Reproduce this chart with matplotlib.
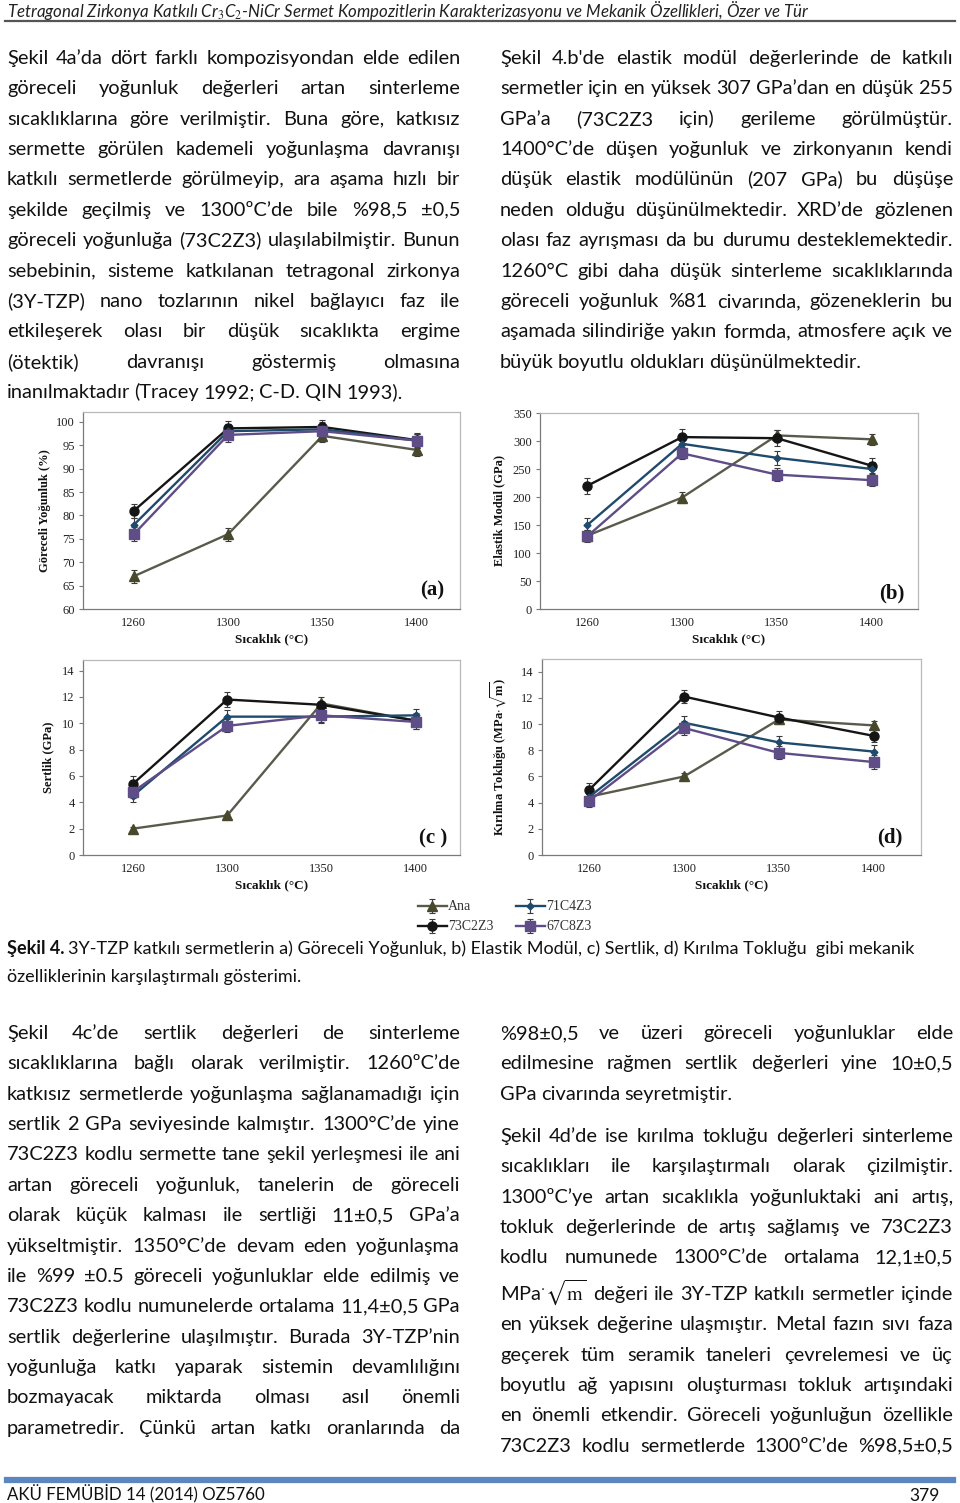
import matplotlib
matplotlib.use("Agg")
import matplotlib.pyplot as plt

plt.rcParams["mathtext.fontset"] = "stix"

# ---- data ----
temps = ["1260", "1300", "1350", "1400"]
series = ["Ana", "73C2Z3", "71C4Z3", "67C8Z3"]

density_ana = [67, 76, 97, 94]
density_73 = [81, 98.6, 98.9, 96.1]
density_71 = [78, 98, 98.4, 96]
density_67 = [76, 97.2, 98, 96]
density_err = [1.4, 1.5, 1.5, 1.5]

modulus_ana = [131, 199, 310, 303]
modulus_73 = [220, 307, 305, 256]
modulus_71 = [150, 295, 270, 250]
modulus_67 = [130, 278, 240, 230]
modulus_err = [10, 14, 12, 11]

hardness_ana = [2.0, 3.0, 11.5, 10.2]
hardness_73 = [5.4, 11.8, 11.4, 10.2]
hardness_71 = [4.5, 10.5, 10.5, 10.6]
hardness_67 = [4.8, 9.8, 10.6, 10.1]
hardness_err = [0.1, 0.6, 0.5, 0.5]

tough_ana = [4.45, 6.0, 10.35, 9.9]
tough_73 = [5.0, 12.1, 10.5, 9.1]
tough_71 = [4.45, 10.1, 8.6, 7.9]
tough_67 = [4.15, 9.7, 7.8, 7.1]
tough_err = [0.3, 0.5, 0.5, 0.5]

W, H = 960, 1503
fig = plt.figure(figsize=(W / 100, H / 100), dpi=100)
renderer = fig.canvas.get_renderer()
BODY = "Lato"
SERIF = "Liberation Serif"
BODY_SIZE = 14.4


def fx(x):
    return x / W


def fy(y):
    return 1 - y / H


def put_line(line, x0, x1, y, size=BODY_SIZE, justify=True):
    words = line.split()
    while True:
        texts = [fig.text(0, fy(y + 7), w, fontsize=size, family=BODY, color="#111111",
                          va="baseline", ha="left") for w in words]
        widths = [t.get_window_extent(renderer).width for t in texts]
        space = size * 0.3
        if sum(widths) + space * (len(words) - 1) <= x1 - x0 or not justify:
            break
        for t in texts:
            t.remove()
        size -= 0.2
    if justify and len(words) > 1:
        gap = (x1 - x0 - sum(widths)) / (len(words) - 1)
    else:
        gap = space
    x = x0
    for t, w in zip(texts, widths):
        t.set_x(fx(x))
        x += w + gap


def paragraph(lines, x0, x1, ys, last_natural=True):
    for i, (line, y) in enumerate(zip(lines, ys)):
        put_line(line, x0, x1, y, justify=not (last_natural and i == len(lines) - 1))


# header / footer
fig.text(fx(7), fy(10), r"Tetragonal Zirkonya Katkılı Cr$_3$C$_2$-NiCr Sermet Kompozitlerin "
         "Karakterizasyonu ve Mekanik Özellikleri, Özer ve Tür",
         fontsize=12.2, family=BODY, style="italic", color="#222222", va="center")
fig.add_artist(plt.Line2D([fx(5), fx(955)], [fy(21), fy(21)], color="#555555", lw=1.6))
fig.add_artist(plt.Line2D([fx(7), fx(953)], [fy(1480), fy(1480)], color="#5b86bf", lw=4.5))
fig.text(fx(7), fy(1493), "AKÜ FEMÜBİD 14 (2014) OZ5760", fontsize=12.2, family=BODY,
         color="#111111", va="center")
fig.text(fx(940), fy(1496), "379", fontsize=12.5, family=BODY, color="#111111",
         va="center", ha="right")

top_left = [
    "Şekil 4a’da dört farklı kompozisyondan elde edilen",
    "göreceli yoğunluk değerleri artan sinterleme",
    "sıcaklıklarına göre verilmiştir. Buna göre, katkısız",
    "sermette görülen kademeli yoğunlaşma davranışı",
    "katkılı sermetlerde görülmeyip, ara aşama hızlı bir",
    "şekilde geçilmiş ve 1300ºC’de bile %98,5 ±0,5",
    "göreceli yoğunluğa (73C2Z3) ulaşılabilmiştir. Bunun",
    "sebebinin, sisteme katkılanan tetragonal zirkonya",
    "(3Y-TZP) nano tozlarının nikel bağlayıcı faz ile",
    "etkileşerek olası bir düşük sıcaklıkta ergime",
    "(ötektik) davranışı göstermiş olmasına",
    "inanılmaktadır (Tracey 1992; C-D. QIN 1993).",
]
top_right = [
    "Şekil 4.b'de elastik modül değerlerinde de katkılı",
    "sermetler için en yüksek 307 GPa’dan en düşük 255",
    "GPa’a (73C2Z3 için) gerileme görülmüştür.",
    "1400°C’de düşen yoğunluk ve zirkonyanın kendi",
    "düşük elastik modülünün (207 GPa) bu düşüşe",
    "neden olduğu düşünülmektedir. XRD’de gözlenen",
    "olası faz ayrışması da bu durumu desteklemektedir.",
    "1260°C gibi daha düşük sinterleme sıcaklıklarında",
    "göreceli yoğunluk %81 civarında, gözeneklerin bu",
    "aşamada silindiriğe yakın formda, atmosfere açık ve",
    "büyük boyutlu oldukları düşünülmektedir.",
]
bottom_left = [
    "Şekil 4c’de sertlik değerleri de sinterleme",
    "sıcaklıklarına bağlı olarak verilmiştir. 1260ºC’de",
    "katkısız sermetlerde yoğunlaşma sağlanamadığı için",
    "sertlik 2 GPa seviyesinde kalmıştır. 1300°C’de yine",
    "73C2Z3 kodlu sermette tane şekil yerleşmesi ile ani",
    "artan göreceli yoğunluk, tanelerin de göreceli",
    "olarak küçük kalması ile sertliği 11±0,5 GPa’a",
    "yükseltmiştir. 1350°C’de devam eden yoğunlaşma",
    "ile %99 ±0.5 göreceli yoğunluklar elde edilmiş ve",
    "73C2Z3 kodlu numunelerde ortalama 11,4±0,5 GPa",
    "sertlik değerlerine ulaşılmıştır. Burada 3Y-TZP’nin",
    "yoğunluğa katkı yaparak sistemin devamlılığını",
    "bozmayacak miktarda olması asıl önemli",
    "parametredir. Çünkü artan katkı oranlarında da",
]
bottom_right_1 = [
    "%98±0,5 ve üzeri göreceli yoğunluklar elde",
    "edilmesine rağmen sertlik değerleri yine 10±0,5",
    "GPa civarında seyretmiştir.",
]
bottom_right_2 = [
    "Şekil 4d’de ise kırılma tokluğu değerleri sinterleme",
    "sıcaklıkları ile karşılaştırmalı olarak çizilmiştir.",
    "1300ºC’ye artan sıcaklıkla yoğunluktaki ani artış,",
    "tokluk değerlerinde de artış sağlamış ve 73C2Z3",
    "kodlu numunede 1300°C’de ortalama 12,1±0,5",
    r"MPa$^{\cdot}\sqrt{\mathrm{m}}$ değeri ile 3Y-TZP katkılı sermetler içinde",
    "en yüksek değerine ulaşmıştır. Metal fazın sıvı faza",
    "geçerek tüm seramik taneleri çevrelemesi ve üç",
    "boyutlu ağ yapısını oluşturması tokluk artışındaki",
    "en önemli etkendir. Göreceli yoğunluğun özellikle",
    "73C2Z3 kodlu sermetlerde 1300ºC’de %98,5±0,5",
]

step = 30.37
paragraph(top_left, 7, 460, [57 + i * step for i in range(len(top_left))])
paragraph(top_right, 500, 953, [57 + i * step for i in range(len(top_right))])
paragraph(bottom_left, 7, 460, [1032 + i * step for i in range(len(bottom_left))], last_natural=False)
paragraph(bottom_right_1, 500, 953, [1032 + i * step for i in range(3)])
paragraph(bottom_right_2, 500, 953,
          [1135 + i * step + (6 if i >= 5 else 0) for i in range(len(bottom_right_2))],
          last_natural=False)

# caption
cap = fig.text(fx(7), fy(954), "Şekil 4.", fontsize=13, family=BODY, weight="bold",
               color="#111111", va="baseline")
cw = cap.get_window_extent(renderer).width
fig.text(fx(7 + cw + 4), fy(954), "3Y-TZP katkılı sermetlerin a) Göreceli Yoğunluk, b) Elastik "
         "Modül, c) Sertlik, d) Kırılma Tokluğu  gibi mekanik", fontsize=13, family=BODY,
         color="#111111", va="baseline")
fig.text(fx(7), fy(982), "özelliklerinin karşılaştırmalı gösterimi.", fontsize=13,
         family=BODY, color="#111111", va="baseline")

# ---- charts ----
styles = {
    "Ana": dict(color="#5a5a4c", marker="^", ms=6.5, mc="#48482c"),
    "73C2Z3": dict(color="#151515", marker="o", ms=6.5, mc="#151515"),
    "71C4Z3": dict(color="#1f4a6b", marker="D", ms=3.5, mc="#1f4a6b"),
    "67C8Z3": dict(color="#5e4d86", marker="s", ms=6.5, mc="#5e4d86"),
}


def chart(box, xlim, ylim, yticks, values, err, ylabel, ylab_x, xlab_y, tag, tagpos):
    l, t, r, b = box
    ax = fig.add_axes([fx(l), fy(b), (r - l) / W, (b - t) / H])
    xs = list(range(len(temps)))
    lines = []
    for name, vals, e in zip(series, values, err):
        st = styles[name]
        cont = ax.errorbar(xs, vals, yerr=e, color=st["color"], marker=st["marker"],
                           ms=st["ms"], mfc=st["mc"], mec=st["mc"], lw=1.7,
                           ecolor="#3a3a3a", elinewidth=0.8, capsize=2.5, capthick=0.8,
                           label=name)
        lines.append(cont)
    ax.set_xlim(xlim)
    ax.set_ylim(ylim)
    ax.set_xticks(xs)
    ax.set_xticklabels(temps)
    ax.set_yticks(yticks)
    for side in ["left", "bottom"]:
        ax.spines[side].set_color("#7a7a7a")
    for side in ["top", "right"]:
        ax.spines[side].set_color("#b8b8b8")
    for s in ax.spines.values():
        s.set_linewidth(0.9)
    ax.tick_params(axis="y", length=3, color="#7a7a7a", pad=3, labelsize=9)
    ax.tick_params(axis="x", length=0, pad=6, labelsize=9)
    for lab in ax.get_xticklabels() + ax.get_yticklabels():
        lab.set_family(SERIF)
        lab.set_color("#222222")
    ax.set_ylabel(ylabel, family=SERIF, weight="bold", fontsize=9, color="#111111")
    ax.yaxis.set_label_coords((ylab_x - l) / (r - l), 0.5)
    ax.set_xlabel("Sıcaklık (°C)", family=SERIF, weight="bold", fontsize=9.5, color="#111111")
    ax.xaxis.set_label_coords(0.5, -(xlab_y - b) / (b - t))
    fig.text(fx(tagpos[0]), fy(tagpos[1]), tag, family=SERIF, weight="bold", fontsize=15,
             ha="center", va="center", color="#111111")
    return lines


handles = chart((83, 412, 460, 609), (-0.54, 3.46), (60, 102.1), range(60, 101, 5),
                [density_ana, density_73, density_71, density_67], density_err,
                "Göreceli Yoğunluk (%)", 51, 633, "(a)", (432, 590))
chart((540, 413, 918, 609), (-0.5, 3.49), (0, 350), range(0, 351, 50),
      [modulus_ana, modulus_73, modulus_71, modulus_67], modulus_err,
      "Elastik Modül (GPa)", 505, 633, "(b)", (892, 593))
chart((83, 660, 460, 855), (-0.53, 3.47), (0, 14.8), range(0, 15, 2),
      [hardness_ana, hardness_73, hardness_71, hardness_67], hardness_err,
      "Sertlik (GPa)", 54, 879, "(c )", (433, 838))
chart((542, 659, 921, 855), (-0.5, 3.5), (0, 14.97), range(0, 15, 2),
      [tough_ana, tough_73, tough_71, tough_67], tough_err,
      r"Kırılma Tokluğu (MPa$\cdot\sqrt{\mathbf{m}}$)", 509, 879, "(d)", (890, 837))

fig.legend(handles=handles, labels=series, ncol=2, loc="upper left",
           bbox_to_anchor=(fx(405), fy(888)), frameon=False, handlelength=2.1,
           handletextpad=0.1, columnspacing=1.6, labelspacing=0.5,
           prop={"family": SERIF, "size": 10}, labelcolor="#333333")

fig.savefig("out.png", dpi=100)
